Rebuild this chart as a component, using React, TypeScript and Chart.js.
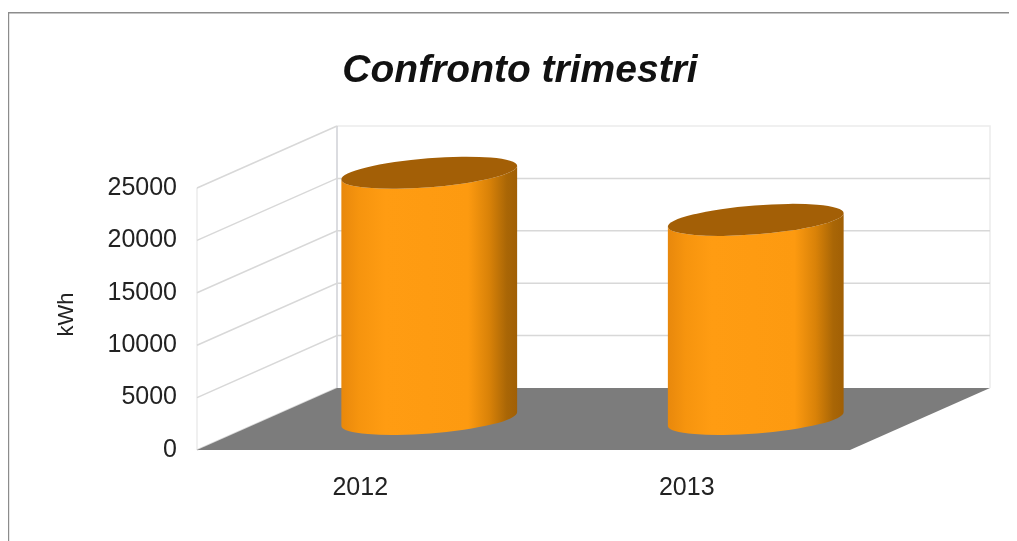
import React, { useEffect, useRef } from "react";
import { Chart, registerables } from "chart.js";

Chart.register(...registerables);

const categories = ["2012", "2013"];
const energyKwh = [23500, 19000];
const yTicks = [0, 5000, 10000, 15000, 20000, 25000];
const yAxisLabel = "kWh";

const FONT = '"Liberation Sans", Arial, sans-serif';
// Oblique projection of the plot box: how far the back wall sits from the front plane.
const DEPTH_X = 140;
const DEPTH_Y = 62;

const box3d = {
  id: "box3d",
  beforeDraw(chart: any) {
    const { ctx } = chart;
    ctx.save();
    // Frame around the page
    ctx.fillStyle = "#8c8c8c";
    ctx.fillRect(0, 4, chart.width, 1.5);
    ctx.fillRect(0, 4, 1.2, chart.height);
    ctx.restore();
  },
  beforeDatasetsDraw(chart: any) {
    const { ctx, chartArea, scales } = chart;
    const { left, right, top, bottom } = chartArea;
    const y = scales.y;
    ctx.save();
    ctx.lineWidth = 1.5;

    // Walls: outer edges are fainter than the grid
    ctx.strokeStyle = "#ececec";
    ctx.beginPath();
    ctx.moveTo(left + DEPTH_X, top - DEPTH_Y);
    ctx.lineTo(right + DEPTH_X, top - DEPTH_Y);
    ctx.lineTo(right + DEPTH_X, bottom - DEPTH_Y);
    ctx.moveTo(left, top);
    ctx.lineTo(left, bottom);
    ctx.stroke();

    ctx.strokeStyle = "#cfd0d6";
    ctx.beginPath();
    ctx.moveTo(left + DEPTH_X, top - DEPTH_Y);
    ctx.lineTo(left + DEPTH_X, bottom - DEPTH_Y);
    ctx.stroke();

    // Grid lines run along the side wall, then along the back wall
    ctx.strokeStyle = "#d8d8d8";
    yTicks.forEach((v) => {
      const py = y.getPixelForValue(v);
      ctx.beginPath();
      ctx.moveTo(left, py);
      ctx.lineTo(left + DEPTH_X, py - DEPTH_Y);
      if (v > 0 && v < yTicks[yTicks.length - 1]) {
        ctx.lineTo(right + DEPTH_X, py - DEPTH_Y);
      }
      ctx.stroke();
    });

    // Floor
    ctx.fillStyle = "#7c7c7c";
    ctx.beginPath();
    ctx.moveTo(left, bottom);
    ctx.lineTo(right, bottom);
    ctx.lineTo(right + DEPTH_X, bottom - DEPTH_Y);
    ctx.lineTo(left + DEPTH_X, bottom - DEPTH_Y);
    ctx.closePath();
    ctx.fill();
    ctx.restore();
  },
  afterDatasetsDraw(chart: any) {
    const { ctx, chartArea } = chart;
    const tilt = (-4.5 * Math.PI) / 180;
    const ry = 14.5;
    chart.getDatasetMeta(0).data.forEach((bar: any) => {
      const rx = bar.width / 2;
      const cx = bar.x + DEPTH_X / 2 - 1;
      const topY = bar.y - DEPTH_Y / 2;
      const baseY = bar.base - DEPTH_Y / 2;
      const x0 = cx - rx;
      const x1 = cx + rx;

      const body = ctx.createLinearGradient(x0, 0, x1, 0);
      body.addColorStop(0, "#e8880c");
      body.addColorStop(0.1, "#f6940e");
      body.addColorStop(0.25, "#ff9c12");
      body.addColorStop(0.72, "#fd9a10");
      body.addColorStop(0.84, "#d98208");
      body.addColorStop(0.94, "#a96606");
      body.addColorStop(1, "#a05f05");

      ctx.save();
      ctx.fillStyle = body;
      ctx.beginPath();
      ctx.ellipse(cx, topY, rx, ry, tilt, Math.PI, 0, true);
      ctx.ellipse(cx, baseY, rx, ry, tilt, 0, Math.PI, false);
      ctx.closePath();
      ctx.fill();

      ctx.fillStyle = "#a35f06";
      ctx.beginPath();
      ctx.ellipse(cx, topY, rx, ry, tilt, 0, Math.PI * 2);
      ctx.fill();
      ctx.restore();
    });

    // Rotated unit label beside the value axis
    ctx.save();
    ctx.translate(59, (chartArea.top + chartArea.bottom) / 2 - 4.5);
    ctx.rotate(-Math.PI / 2);
    ctx.fillStyle = "#222";
    ctx.font = `22px ${FONT}`;
    ctx.textAlign = "center";
    ctx.textBaseline = "middle";
    ctx.fillText(yAxisLabel, 0, 0);
    ctx.restore();
  },
};

export default function App() {
  const ref = useRef<HTMLCanvasElement>(null);

  useEffect(() => {
    const chart = new Chart(ref.current!, {
      type: "bar",
      data: {
        labels: categories,
        datasets: [
          {
            label: yAxisLabel,
            data: energyKwh,
            backgroundColor: "rgba(0,0,0,0)",
            categoryPercentage: 1,
            barPercentage: 0.54,
          },
        ],
      },
      plugins: [box3d],
      options: {
        responsive: false,
        animation: false,
        layout: { padding: { left: 15, right: 0, top: 0, bottom: 0 } },
        plugins: {
          legend: { display: false },
          tooltip: { enabled: false },
          title: {
            display: true,
            text: "Confronto trimestri",
            color: "#111",
            font: { family: FONT, size: 39, weight: "bold", style: "italic", lineHeight: 1.2 },
            padding: { top: 39.6, bottom: 93.6 },
          },
        },
        scales: {
          x: {
            grid: { display: false, drawTicks: false },
            border: { display: false },
            ticks: { color: "#222", font: { family: FONT, size: 25 }, padding: 23, maxRotation: 0 },
            afterFit: (s: any) => {
              s.height = 91;
            },
          },
          y: {
            min: 0,
            max: 25000,
            grid: { display: false, drawTicks: false },
            border: { display: false },
            ticks: {
              stepSize: 5000,
              color: "#222",
              font: { family: FONT, size: 25 },
              padding: 20,
              callback: (v: number) => String(v),
            },
            afterFit: (s: any) => {
              s.width = 174;
            },
          },
          // Empty axis that reserves room for the depth of the box on the right
          depth: {
            position: "right",
            display: true,
            grid: { display: false, drawTicks: false },
            border: { display: false },
            ticks: { display: false },
            afterFit: (s: any) => {
              s.width = 167;
            },
          },
        },
      },
    } as any);
    return () => chart.destroy();
  }, []);

  return <canvas ref={ref} width={1009} height={533} style={{ display: "block" }} />;
}
